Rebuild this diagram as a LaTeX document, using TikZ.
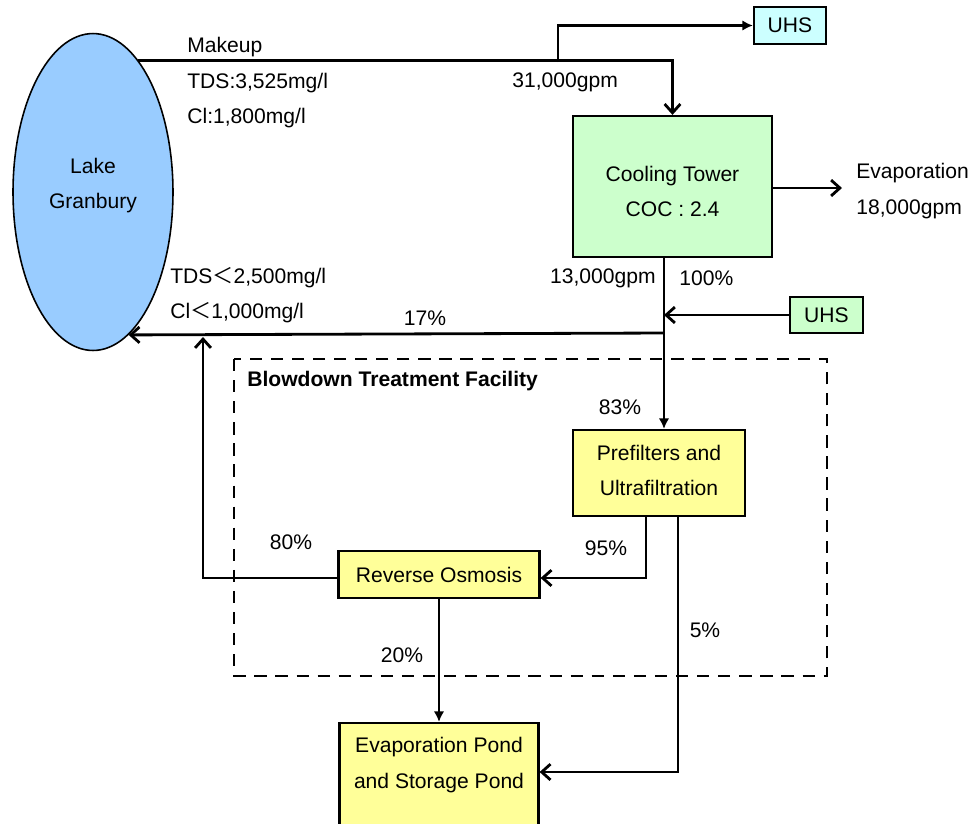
\documentclass[tikz,border=0pt]{standalone}
\usepackage{fontspec}
\setmainfont{Liberation Sans}
\newfontfamily\cjk{Noto Sans CJK SC}
\usetikzlibrary{arrows.meta,shapes.geometric}
\definecolor{lakeblue}{HTML}{99CCFF}
\definecolor{towergreen}{HTML}{CCFFCC}
\definecolor{uhscyan}{HTML}{CCFFFF}
\definecolor{unityellow}{HTML}{FFFF99}

\begin{document}
\begin{tikzpicture}[x=0.02cm, y=-0.02cm,
	font=\fontsize{12}{20}\selectfont,
	unit/.style={draw, line width=1.3pt, align=center, inner sep=0pt},
	flow/.style={line width=1.6pt, -{Straight Barb[length=5pt,width=9pt]}},
	feed/.style={line width=1.6pt, -{Latex[length=6pt,width=6pt]}},
	lbl/.style={inner sep=0pt}]
	\useasboundingbox (0,0) rectangle (975,823);
	\clip (0,0) rectangle (975,823);

	% units
	\node (lake) [ellipse, draw, fill=lakeblue, line width=0.9pt, minimum width=3.2cm, minimum height=6.34cm, align=center, inner sep=0pt, text depth=0.36cm] at (93,192) {Lake\\Granbury};
	\node (tower) [unit, fill=towergreen, minimum width=3.98cm, minimum height=2.82cm, text height=1.21cm] at (672.5,186.5) {Cooling Tower\\COC : 2.4};
	\node (uhsa) [unit, fill=uhscyan, minimum width=1.44cm, minimum height=0.74cm] at (790,25.5) {UHS};
	\node (uhsb) [unit, fill=towergreen, minimum width=1.46cm, minimum height=0.72cm] at (826.5,315) {UHS};
	\node (prefilter) [unit, fill=unityellow, minimum width=3.44cm, minimum height=1.72cm, text depth=0.12cm] at (659,473) {Prefilters and\\Ultrafiltration};
	\node (ro) [unit, fill=unityellow, minimum width=4.02cm, minimum height=0.94cm] at (439,574.5) {Reverse Osmosis};
	\node (pond) [unit, fill=unityellow, minimum width=3.98cm, minimum height=2.44cm] at (439,784) {};
	\node (pondtext) [lbl, align=center] at (439,765) {Evaporation Pond\\and Storage Pond};

	% treatment facility
	\draw[line width=1.6pt, dash pattern=on 7pt off 5pt] (234,359) rectangle (827,676);
	\node (bdtf) [lbl, anchor=west, font=\fontsize{12}{20}\selectfont\bfseries] at (247,381) {Blowdown Treatment Facility};

	% flows
	\coordinate (split) at (558,62);
	\coordinate (jct) at (664,333);
	\coordinate (ret) at (203,337);
	\coordinate (evapend) at (842,188);
	\draw[flow] (lake.71) -| (tower.north);
	\draw[feed] (split) |- (uhsa);
	\draw[flow] (tower.east |- evapend) -- (evapend);
	\draw[feed] (jct |- tower.south) -- (jct |- prefilter.north);
	\draw[flow] (uhsb) -- (uhsb -| jct);
	\draw[flow] (jct) -- (lake.-76);
	\draw[flow] ([yshift=-0.07cm]ro.west) -| (ret);
	\draw[flow] ([xshift=-0.26cm]prefilter.south) |- ([yshift=-0.07cm]ro.east);
	\draw[flow] ([xshift=0.38cm]prefilter.south) |- ([yshift=0.24cm]pond.east);
	\draw[feed] (ro) -- (pond);

	% labels
	\node (mk) [lbl, anchor=west] at (187,47) {Makeup};
	\node (tdsin) [lbl, anchor=west] at (187,83) {TDS:3,525mg/l};
	\node (clin) [lbl, anchor=west] at (187,118) {Cl:1,800mg/l};
	\node (q31) [lbl, anchor=west] at (512,82) {31,000gpm};
	\node (evap) [lbl, anchor=west, align=left] at (856,191) {Evaporation\\18,000gpm};
	\node (q13) [lbl, anchor=east] at (656,278) {13,000gpm};
	\node (p100) [lbl, anchor=west] at (679,278) {100\%};
	\node (tdsout) [lbl, anchor=west] at (170,278) {TDS{\cjk ＜}2,500mg/l};
	\node (clout) [lbl, anchor=west] at (170,313) {Cl{\cjk ＜}1,000mg/l};
	\node (p17) [lbl] at (425,318) {17\%};
	\node (p83) [lbl] at (620,407) {83\%};
	\node (p80) [lbl] at (291,542) {80\%};
	\node (p95) [lbl] at (606,548) {95\%};
	\node (p5) [lbl] at (705,630) {5\%};
	\node (p20) [lbl] at (402,655) {20\%};
\end{tikzpicture}
\end{document}
